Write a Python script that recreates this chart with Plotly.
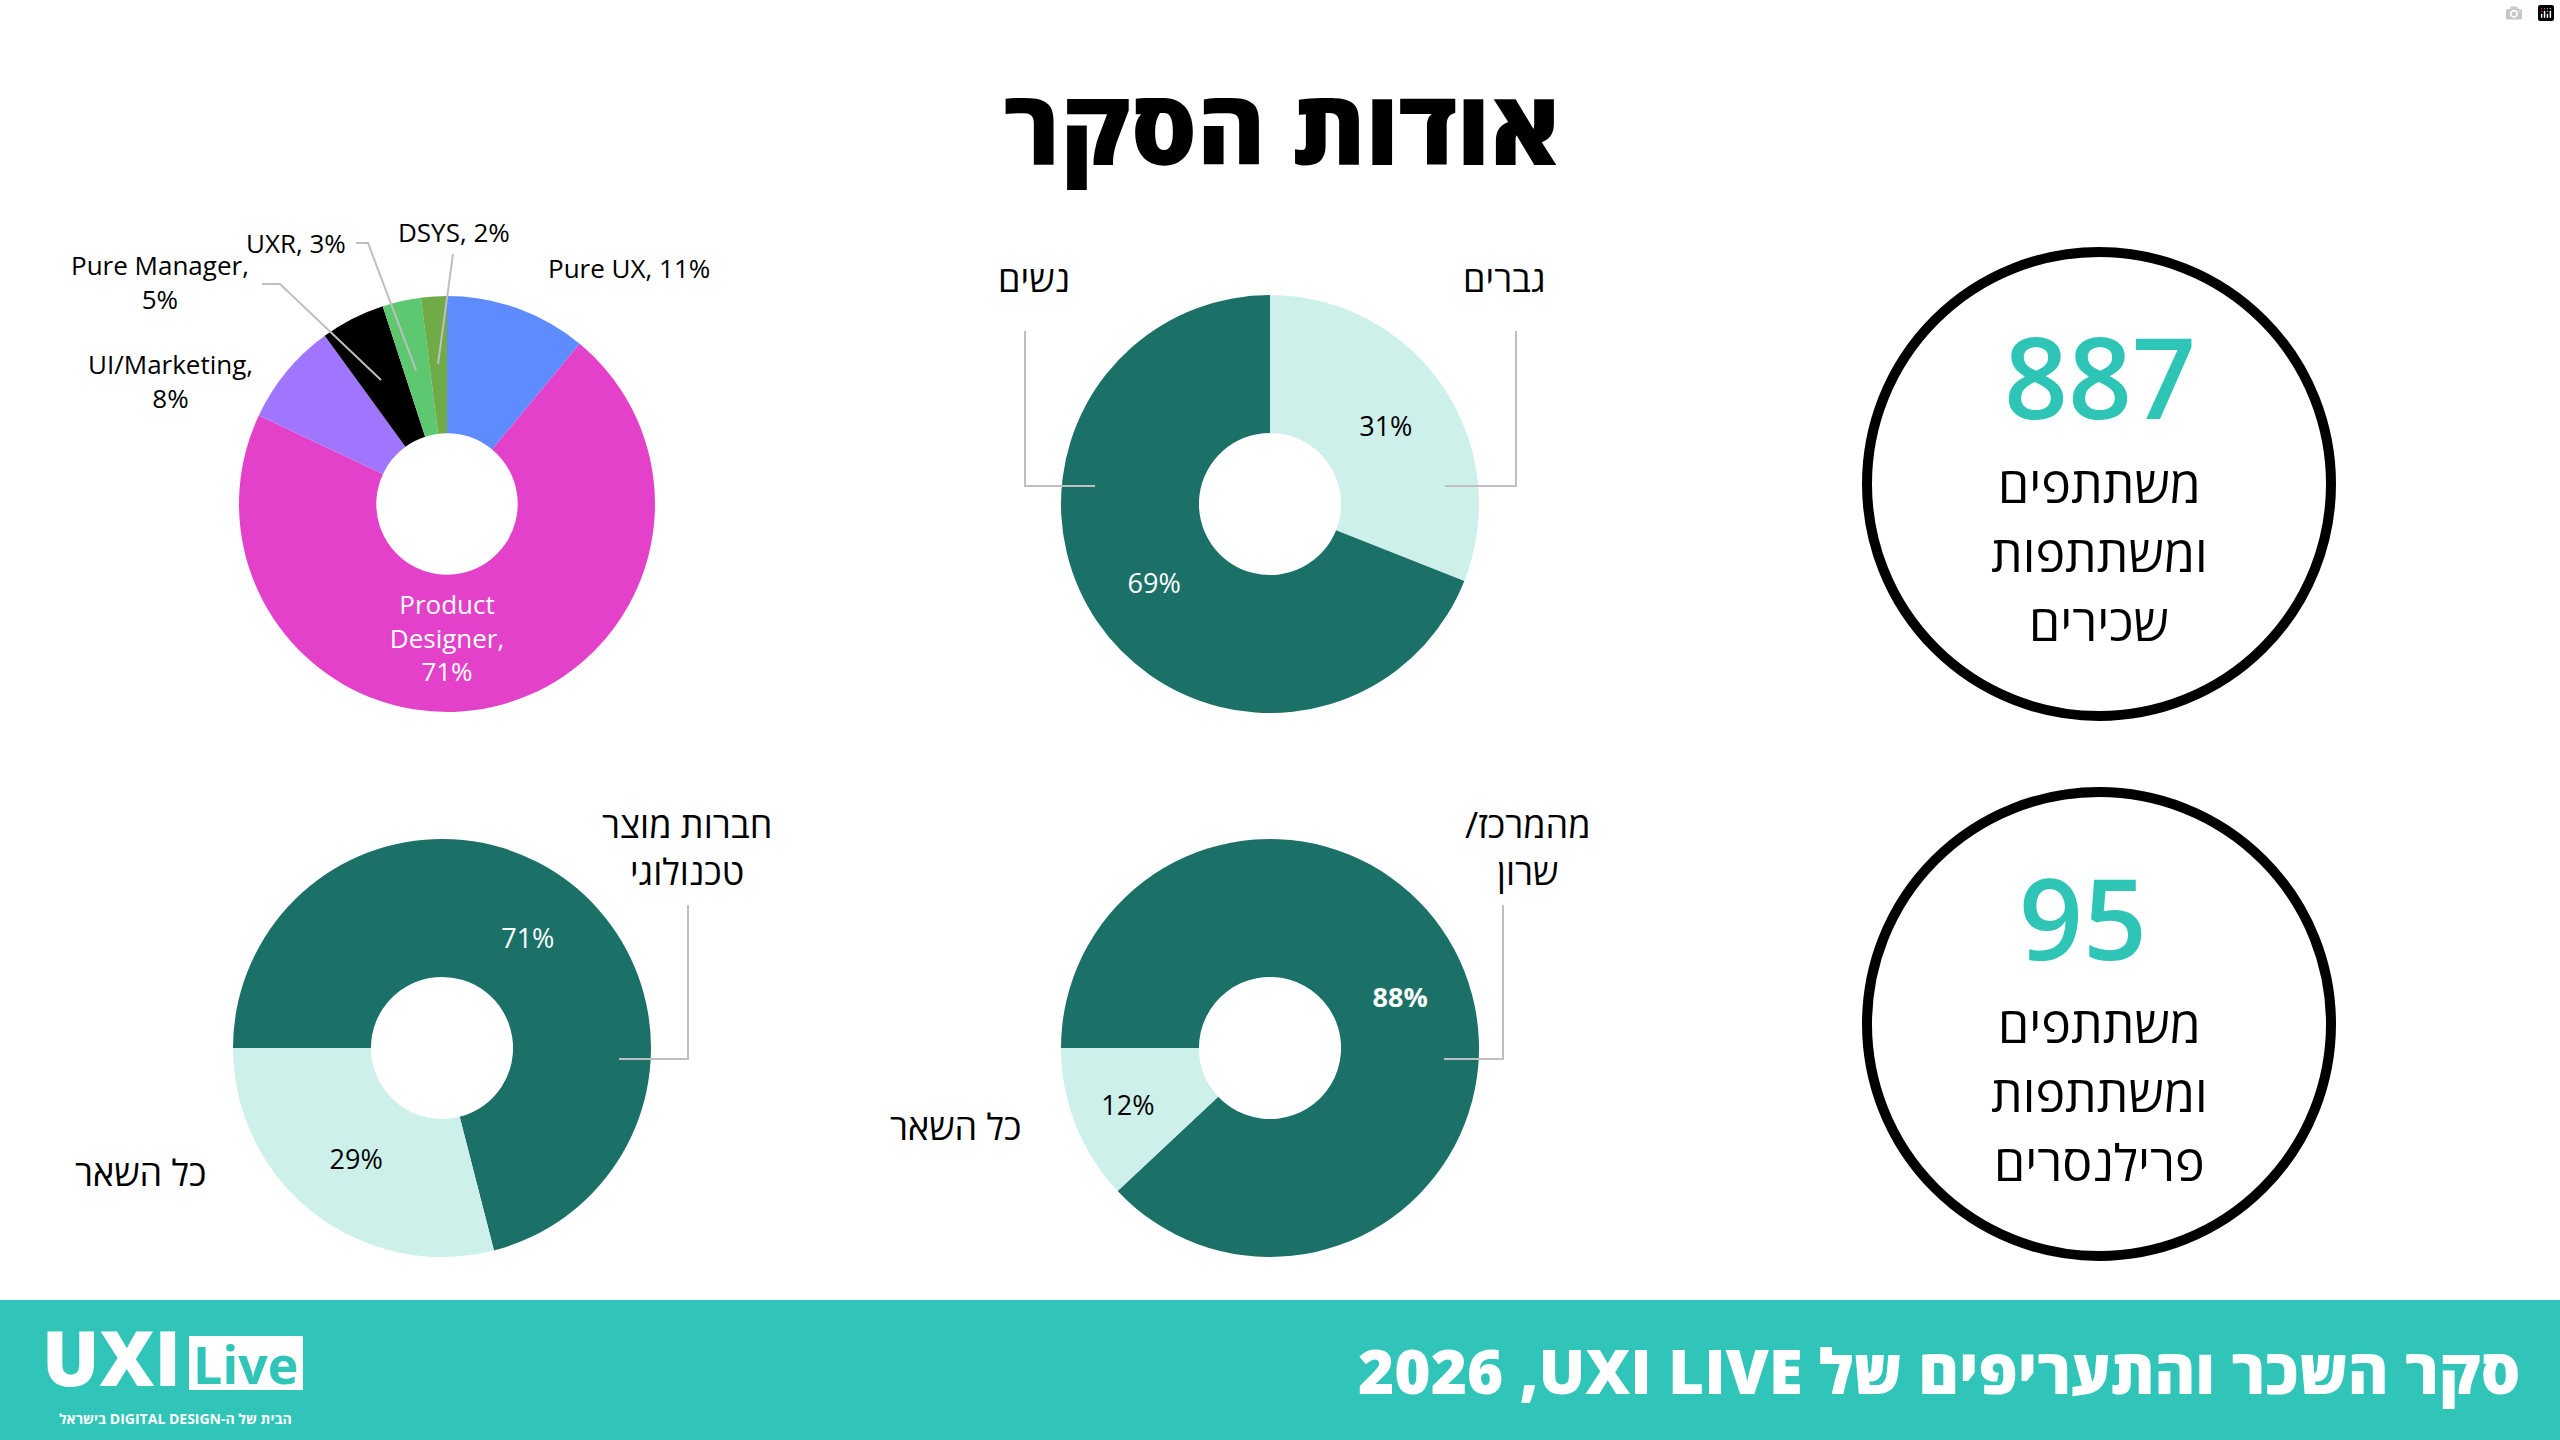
import plotly.graph_objects as go

# ---- נתוני הסקר ----
roles = ["Pure UX", "Product Designer", "UI/Marketing", "Pure Manager", "UXR", "DSYS"]
role_pct = [11, 71, 8, 5, 3, 2]

gender_labels = ["גברים", "נשים"]
gender_pct = [31, 69]

company_labels = ["חברות מוצר טכנולוגי", "כל השאר"]
company_pct = [71, 29]

region_labels = ["מהמרכז/שרון", "כל השאר"]
region_pct = [88, 12]

respondents = [887, 95]
respondent_captions = [["משתתפים", "ומשתתפות", "שכירים"],
                       ["משתתפים", "ומשתתפות", "פרילנסרים"]]

title = "אודות הסקר"
footer = "סקר השכר והתעריפים של UXI LIVE, 2026"
tagline = "הבית של ה-DIGITAL DESIGN בישראל"

# ---- עיצוב ----
W, H = 2560, 1440
FONT = "Open Sans, DejaVu Sans, sans-serif"
DARK = "#1B7068"
LIGHT = "#CDF0EA"
TEAL = "#2EC4B6"
FOOT = "#30C5B8"
LINE = "#BFBFBF"
role_colors = ["#5E8CFF", "#E341C9", "#A176FF", "#000000", "#5EC870", "#6FAB46"]


def px(x):
    return x / W


def py(y):
    return 1 - y / H


def dom(cx, cy, r):
    return dict(x=[px(cx - r), px(cx + r)], y=[py(cy + r), py(cy - r)])


def rtl(text):
    # כל שורה בכיוון ימין-לשמאל
    return "<br>".join("\u202b" + s + "\u202c" for s in text.split("<br>"))


def note(text, x, y, size, color="black", weight=400, xanchor="center",
         yanchor="middle", family=FONT):
    return dict(text=text, x=px(x), y=py(y), xref="paper", yref="paper",
                showarrow=False, xanchor=xanchor, yanchor=yanchor, align="center",
                font=dict(family=family, size=size, color=color, weight=weight))


def path(points):
    d = "M " + " L ".join(f"{px(x)},{py(y)}" for x, y in points)
    return dict(type="path", path=d, xref="paper", yref="paper",
                line=dict(color=LINE, width=2))


fig = go.Figure()

# תפקידים
fig.add_trace(go.Pie(
    labels=roles, values=role_pct, sort=False, direction="clockwise", rotation=0,
    hole=0.34, marker=dict(colors=role_colors),
    text=[r.replace(" ", "<br>") for r in roles],
    texttemplate="%{text},<br>%{value}%",
    textposition=["none", "inside", "none", "none", "none", "none"],
    insidetextorientation="horizontal",
    textfont=dict(family=FONT, size=26, color="white"),
    domain=dom(447, 504, 208), showlegend=False))

# מגדר
fig.add_trace(go.Pie(
    labels=gender_labels, values=gender_pct, sort=False, direction="clockwise", rotation=0,
    hole=0.34, marker=dict(colors=[LIGHT, DARK]),
    texttemplate="%{value}%", textposition="inside", insidetextorientation="horizontal",
    textfont=dict(family=FONT, size=27, color=["black", "white"]),
    domain=dom(1270, 504, 209), showlegend=False))

# סוג חברה
fig.add_trace(go.Pie(
    labels=company_labels, values=company_pct, sort=False, direction="clockwise", rotation=270,
    hole=0.34, marker=dict(colors=[DARK, LIGHT]),
    texttemplate="%{value}%", textposition="inside", insidetextorientation="horizontal",
    textfont=dict(family=FONT, size=27, color=["white", "black"]),
    domain=dom(442, 1048, 209), showlegend=False))

# אזור
fig.add_trace(go.Pie(
    labels=region_labels, values=region_pct, sort=False, direction="clockwise", rotation=270,
    hole=0.34, marker=dict(colors=[DARK, LIGHT]),
    texttemplate="%{value}%", textposition="inside", insidetextorientation="horizontal",
    textfont=dict(family=FONT, size=27, color=["white", "black"], weight=[700, 400]),
    domain=dom(1270, 1048, 209), showlegend=False))

ann = []
shapes = []

# תוויות מחוץ לעוגת התפקידים
role_label_pos = {
    "Pure UX": (629, 268, False),
    "UI/Marketing": (170, 381, True),
    "Pure Manager": (160, 282, True),
    "UXR": (296, 243, False),
    "DSYS": (454, 232, False),
}
for name, pct in zip(roles, role_pct):
    if name in role_label_pos:
        x, y, wrap = role_label_pos[name]
        sep = ",<br>" if wrap else ", "
        ann.append(note(f"{name}{sep}{pct}%", x, y, 26))
shapes += [path([(262, 284), (280, 284), (381, 380)]),
           path([(356, 243), (368, 243), (416, 370)]),
           path([(453, 254), (438, 364)])]

# תוויות העוגות הירוקות
ann.append(note(rtl(gender_labels[0]), 1504, 278, 36))
ann.append(note(rtl(gender_labels[1]), 1034, 278, 36))
shapes += [path([(1445, 486), (1516, 486), (1516, 331)]),
           path([(1095, 486), (1025, 486), (1025, 331)])]

ann.append(note(rtl(company_labels[0].replace("מוצר ", "מוצר<br>")), 687, 848, 36))
ann.append(note(rtl(company_labels[1]), 140, 1172, 36))
shapes.append(path([(619, 1059), (688, 1059), (688, 905)]))

ann.append(note(rtl(region_labels[0].replace("/", "/<br>")), 1527, 848, 36))
ann.append(note(rtl(region_labels[1]), 955, 1126, 36))
shapes.append(path([(1444, 1059), (1503, 1059), (1503, 905)]))

# עיגולי המשתתפים
num_x = [2100, 2083]
for i, (n, caption) in enumerate(zip(respondents, respondent_captions)):
    cy = 484 + i * 540
    r = 232
    shapes.append(dict(type="circle", xref="paper", yref="paper",
                       x0=px(2099 - r), x1=px(2099 + r), y0=py(cy + r), y1=py(cy - r),
                       line=dict(color="black", width=10)))
    ann.append(note(str(n), num_x[i], cy - 108, 112, TEAL, 600))
    for j, line in enumerate(caption):
        ann.append(note(rtl(line), 2099, cy + j * 69, 50))

# כותרת
ann.append(note(rtl(title), 1281, 124, 104, weight=800))

# פס תחתון
shapes.append(dict(type="rect", xref="paper", yref="paper", x0=0, x1=1, y0=0, y1=py(1300),
                   fillcolor=FOOT, line=dict(width=0), layer="below"))
ann.append(note(rtl(footer.replace("LIVE,", "LIVE\u200f,")), 2522, 1370, 62, "white", 800,
                xanchor="right"))

# לוגו
ann.append(note("UXI", 40, 1410, 76, "white", 800, xanchor="left", yanchor="bottom"))
shapes.append(dict(type="rect", xref="paper", yref="paper", x0=px(189), x1=px(303),
                   y0=py(1390), y1=py(1336), fillcolor="white", line=dict(width=0)))
ann.append(note("Live", 246, 1363, 52, FOOT, 700))
ann.append(note(rtl(tagline), 175, 1407, 14, "white", 700, yanchor="top"))

fig.update_layout(
    width=W, height=H,
    margin=dict(l=0, r=0, t=0, b=0),
    paper_bgcolor="white",
    annotations=ann,
    shapes=shapes,
)

fig.write_html("out.html",
               post_script="document.body.style.margin='0';document.body.style.overflow='hidden';")
